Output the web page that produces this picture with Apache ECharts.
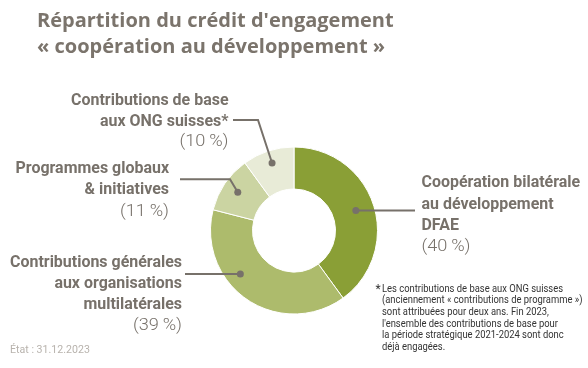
<!DOCTYPE html>
<html><head><meta charset="utf-8">
<script src="https://cdn.jsdelivr.net/npm/echarts@6/dist/echarts.min.js"></script>
<style>html,body{margin:0;padding:0;background:#fff}#c{width:588px;height:368px}</style>
</head><body><div id="c"></div>
<script>
// ---- data ----
const categories = ['Coopération bilatérale au développement DFAE', 'Contributions générales aux organisations multilatérales', 'Programmes globaux & initiatives', 'Contributions de base aux ONG suisses*'];
const values = [40, 39, 11, 10];
const labelTexts = [
  ['Coopération bilatérale', 'au développement', 'DFAE'],
  ['Contributions générales', 'aux organisations', 'multilatérales'],
  ['Programmes globaux', '& initiatives'],
  ['Contributions de base', 'aux ONG suisses*']
];
const titleLines = ["Répartition du crédit d'engagement", '« coopération au développement »'];
const footnoteLines = [
  'Les contributions de base aux ONG suisses',
  '(anciennement « contributions de programme »)',
  'sont attribuées pour deux ans. Fin 2023,',
  "l'ensemble des contributions de base pour",
  'la période stratégique 2021-2024 sont donc',
  'déjà engagées.'
];
const stateText = 'État : 31.12.2023';

// ---- style / layout ----
const colors = ['#8a9f36', '#adbb6c', '#cbd4a2', '#e8ebd7'];
const gray = '#77716a';
const cx = 294, cy = 230.5, r0 = 41.5, r1 = 83.5;
const anchorFrac = [0.5, 0.62, 0.5, 0.5];
const anchorR = [65, 69, 68, 71];
const labelLayout = [
  {x: 421.5, align: 'left', y: 189, lh: 21.3, path: (d) => [[d[0], d[1]], [415, d[1]]]},
  {x: 182, align: 'right', y: 269, lh: 21, path: (d) => [[185, d[1]], [d[0], d[1]]]},
  {x: 169, align: 'right', y: 174.5, lh: 21.5, path: (d) => [[180, 179.3], [230, 179.3], [d[0], d[1]]]},
  {x: 228.5, align: 'right', y: 106.5, lh: 20.8, path: (d) => [[233, 120], [258, 120], [d[0], d[1]]]}
];
const boldFont = 'bold 17px Roboto, sans-serif';
const pctFont = '300 17px Roboto, sans-serif';
const noteFont = '10.5px Roboto, sans-serif';
const stateFont = '11px Roboto, sans-serif';

const mctx = document.createElement('canvas').getContext('2d');
function widthOf(t, f) { mctx.font = f; return mctx.measureText(t).width; }
const labelScale = 172 / widthOf('Contributions générales', boldFont);
const pctScale = 49 / widthOf('(10\u2009%)', pctFont);
const noteScale = 181 / widthOf(footnoteLines[0], noteFont);
const stateScale = 80 / widthOf(stateText, stateFont);

const total = values.reduce((a, b) => a + b, 0);
const graphics = [];
titleLines.forEach((t, i) => graphics.push({type: 'text', x: 37, y: 21.5 + i * 25.5,
  style: {text: t, fill: '#7b746c', font: 'bold 20px "Open Sans", sans-serif', verticalAlign: 'middle'}}));
let cum = 0;
values.forEach((v, i) => {
  const a = (cum + v * anchorFrac[i]) / total * 2 * Math.PI;
  cum += v;
  const d = [cx + anchorR[i] * Math.sin(a), cy - anchorR[i] * Math.cos(a)];
  const L = labelLayout[i];
  graphics.push({type: 'polyline', shape: {points: L.path(d)}, style: {stroke: gray, lineWidth: 2, fill: null}, z: 10});
  graphics.push({type: 'circle', shape: {cx: d[0], cy: d[1], r: 3.5}, style: {fill: gray}, z: 11});
  const lines = labelTexts[i];
  lines.forEach((t, j) => graphics.push({type: 'text', x: L.x, y: L.y + j * L.lh - 6, scaleX: labelScale,
    style: {text: t, fill: gray, font: boldFont, align: L.align, verticalAlign: 'middle'}}));
  graphics.push({type: 'text', x: L.x, y: L.y + lines.length * L.lh - 6, scaleX: pctScale,
    style: {text: '(' + v + '\u2009%)', fill: gray, font: pctFont, align: L.align, verticalAlign: 'middle'}});
});
graphics.push({type: 'text', x: 375.5, y: 290, style: {text: '*', fill: '#333', font: '12px Roboto, sans-serif', verticalAlign: 'middle'}});
footnoteLines.forEach((t, i) => graphics.push({type: 'text', x: 382, y: 289 + i * 11.7, scaleX: noteScale,
  style: {text: t, fill: '#333', font: noteFont, verticalAlign: 'middle'}}));
graphics.push({type: 'text', x: 10, y: 350, scaleX: stateScale, style: {text: stateText, fill: '#b8b3ad', font: stateFont, verticalAlign: 'middle'}});

const chart = echarts.init(document.getElementById('c'), null, {renderer: 'canvas'});
chart.setOption({
  animation: false,
  series: [{
    type: 'pie', center: [cx, cy], radius: [r0, r1], startAngle: 90, clockwise: true,
    label: {show: false}, labelLine: {show: false}, silent: true,
    itemStyle: {borderColor: '#fff', borderWidth: 1},
    data: categories.map((c, i) => ({name: c, value: values[i], itemStyle: {color: colors[i]}}))
  }],
  graphic: graphics
});
</script></body></html>
